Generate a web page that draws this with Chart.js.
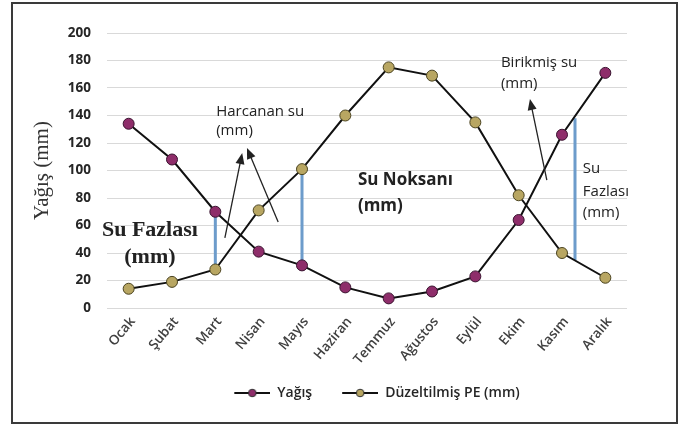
<!DOCTYPE html>
<html>
<head>
<meta charset="utf-8">
<script src="https://cdn.jsdelivr.net/npm/chart.js"></script>
<style>
  body { margin: 0; background: #fff; }
</style>
</head>
<body>
<canvas id="myChart" width="680" height="426"></canvas>
<script>
// months on the x axis
const months = ['Ocak', 'Şubat', 'Mart', 'Nisan', 'Mayıs', 'Haziran', 'Temmuz', 'Ağustos', 'Eylül', 'Ekim', 'Kasım', 'Aralık'];

// series values (mm)
const yagis = [134, 108, 70, 41, 31, 15, 7, 12, 23, 64, 126, 171];
const duzeltilmisPE = [14, 19, 28, 71, 101, 140, 175, 169, 135, 82, 40, 22];

// y axis ticks
const yTicks = [0, 20, 40, 60, 80, 100, 120, 140, 160, 180, 200];

// blue difference bars: month position, top and bottom value
const farkX = [2, 4, 10.3];
const farkUst = [70, 100, 138];
const farkAlt = [32, 31, 35];

// legend symbol: black line with a round marker in the middle
// (left 20px kept empty so the two legend items sit further apart)
function makeLegendIcon(fill) {
    const c = document.createElement('canvas');
    c.width = 56;
    c.height = 10;
    const g = c.getContext('2d');
    g.strokeStyle = '#111';
    g.lineWidth = 2;
    g.beginPath();
    g.moveTo(20, 5);
    g.lineTo(56, 5);
    g.stroke();
    g.fillStyle = fill;
    g.strokeStyle = '#333';
    g.lineWidth = 1;
    g.beginPath();
    g.arc(38, 5, 3.8, 0, Math.PI * 2);
    g.fill();
    g.stroke();
    return c;
}
const legendIcons = [makeLegendIcon('#8e2d6a'), makeLegendIcon('#b8a662')];

function drawArrow(ctx, x1, y1, x2, y2) {
    const angle = Math.atan2(y2 - y1, x2 - x1);
    const headLen = 11;
    const headHalf = 4.5;
    ctx.beginPath();
    ctx.moveTo(x1, y1);
    ctx.lineTo(x2 - Math.cos(angle) * headLen * 0.8, y2 - Math.sin(angle) * headLen * 0.8);
    ctx.stroke();
    ctx.beginPath();
    ctx.moveTo(x2, y2);
    ctx.lineTo(x2 - Math.cos(angle) * headLen - Math.sin(angle) * headHalf, y2 - Math.sin(angle) * headLen + Math.cos(angle) * headHalf);
    ctx.lineTo(x2 - Math.cos(angle) * headLen + Math.sin(angle) * headHalf, y2 - Math.sin(angle) * headLen - Math.cos(angle) * headHalf);
    ctx.closePath();
    ctx.fill();
}

// text labels and arrows placed in data coordinates (month index, mm)
const annotationPlugin = {
    id: 'annotations',
    afterDatasetsDraw(chart) {
        const ctx = chart.ctx;
        const px = v => chart.scales.x2.getPixelForValue(v);
        const py = v => chart.scales.y.getPixelForValue(v);

        ctx.save();
        ctx.fillStyle = '#222';
        ctx.strokeStyle = '#222';
        ctx.lineWidth = 1.3;
        ctx.textBaseline = 'middle';

        // Harcanan su
        ctx.font = '15px "Open Sans"';
        ctx.textAlign = 'left';
        ctx.fillText('Harcanan su', px(2.02), py(142.5));
        ctx.fillText('(mm)', px(2.02), py(128.7));
        drawArrow(ctx, px(2.22), py(51), px(2.62), py(112.7));
        drawArrow(ctx, px(3.45), py(62.5), px(2.73), py(116.4));

        // Birikmiş su
        ctx.fillText('Birikmiş su', px(8.59), py(178.2));
        ctx.fillText('(mm)', px(8.59), py(162.9));
        drawArrow(ctx, px(9.65), py(93), px(9.26), py(152));

        // Su Fazlası on the right
        ctx.fillText('Su', px(10.48), py(101));
        ctx.fillText('Fazlası', px(10.48), py(84.4));
        ctx.fillText('(mm)', px(10.48), py(69));

        // Su Noksanı
        ctx.font = 'bold 17px "Open Sans"';
        ctx.fillText('Su Noksanı', px(5.29), py(93));
        ctx.fillText('(mm)', px(5.29), py(74));

        // Su Fazlası on the left
        ctx.font = 'bold 22px "Liberation Serif"';
        ctx.textAlign = 'center';
        ctx.fillText('Su Fazlası', px(0.49), py(56.7));
        ctx.fillText('(mm)', px(0.49), py(37));
        ctx.restore();
    }
};

// frame around the picture
const framePlugin = {
    id: 'frame',
    afterDraw(chart) {
        const ctx = chart.ctx;
        ctx.save();
        ctx.strokeStyle = '#3a3a3a';
        ctx.lineWidth = 2;
        ctx.strokeRect(12, 3, 665, 420);
        ctx.restore();
    }
};

const datasets = [
    {
        label: 'Yağış',
        data: yagis,
        borderColor: '#111',
        borderWidth: 2,
        pointRadius: 5.5,
        pointBackgroundColor: '#8e2d6a',
        pointBorderColor: '#3a1430',
        pointBorderWidth: 1,
        tension: 0
    },
    {
        label: 'Düzeltilmiş PE (mm)',
        data: duzeltilmisPE,
        borderColor: '#111',
        borderWidth: 2,
        pointRadius: 5.5,
        pointBackgroundColor: '#b8a662',
        pointBorderColor: '#4a4320',
        pointBorderWidth: 1,
        tension: 0
    }
];

farkX.forEach((x, i) => {
    datasets.push({
        label: 'fark' + i,
        xAxisID: 'x2',
        data: [{ x: x, y: farkUst[i] }, { x: x, y: farkAlt[i] }],
        borderColor: '#6d9ccb',
        borderWidth: 3,
        pointRadius: 0,
        tension: 0
    });
});

const ctx = document.getElementById('myChart');
const myChart = new Chart(ctx, {
    type: 'line',
    data: {
        labels: months,
        datasets: datasets
    },
    options: {
        responsive: false,
        animation: false,
        devicePixelRatio: 1,
        layout: {
            padding: { left: 12, right: 53, top: 33, bottom: 16 }
        },
        plugins: {
            tooltip: { enabled: false },
            legend: {
                position: 'bottom',
                fullSize: false,
                labels: {
                    usePointStyle: true,
                    pointStyleWidth: 56,
                    padding: 10,
                    color: '#262626',
                    font: { family: '"Open Sans"', size: 14, weight: '600' },
                    filter: item => item.datasetIndex < 2,
                    generateLabels(chart) {
                        const items = Chart.defaults.plugins.legend.labels.generateLabels(chart);
                        items.forEach(item => {
                            if (item.datasetIndex < 2) item.pointStyle = legendIcons[item.datasetIndex];
                        });
                        return items;
                    }
                }
            }
        },
        scales: {
            x: {
                type: 'category',
                offset: true,
                grid: { display: false },
                border: { display: false },
                ticks: {
                    autoSkip: false,
                    padding: -2,
                    labelOffset: 4,
                    color: '#404040',
                    font: { family: '"Open Sans"', size: 13.5, weight: '600' }
                },
                afterCalculateLabelRotation(scale) { scale.labelRotation = 50; },
                afterFit(scale) { scale.height = 68; }
            },
            x2: {
                type: 'linear',
                display: false,
                min: -0.5,
                max: 11.5
            },
            y: {
                min: 0,
                max: 200,
                border: { display: false },
                grid: { color: '#d9d9d9', lineWidth: 1, drawTicks: false },
                ticks: {
                    padding: 16,
                    color: '#262626',
                    font: { family: '"Open Sans"', size: 13.5, weight: 'bold' }
                },
                afterBuildTicks(scale) {
                    scale.ticks = yTicks.map(v => ({ value: v }));
                },
                title: {
                    display: true,
                    text: 'Yağış (mm)',
                    color: '#333',
                    padding: { top: 18, bottom: 0 },
                    font: { family: '"Liberation Serif"', size: 21 }
                },
                afterFit(scale) { scale.width = 95; }
            }
        }
    },
    plugins: [annotationPlugin, framePlugin]
});
</script>
</body>
</html>
